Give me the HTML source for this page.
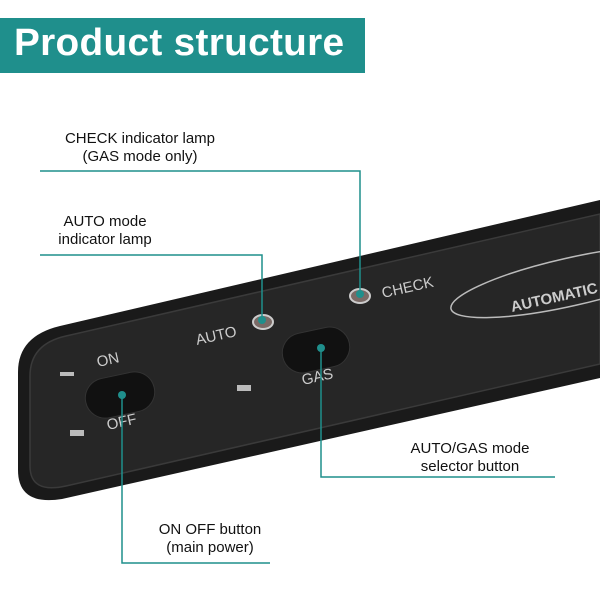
<!DOCTYPE html>
<html><head><style>
body{margin:0;width:600px;height:600px;overflow:hidden;background:#fff;font-family:"Liberation Sans",sans-serif;position:relative}
.t{position:absolute;font-size:15px;color:#111;text-align:center;line-height:18px}
</style></head><body>
<div style="position:absolute;left:0;top:18px;width:365px;height:55px;background:#1f8f8c"></div>
<div style="position:absolute;left:14px;top:22px;font-size:38px;font-weight:bold;color:#fff;letter-spacing:0.3px;transform:scaleX(1.02);transform-origin:left">Product structure</div>
<svg width="600" height="600" style="position:absolute;left:0;top:0">
<path d="M18,372 Q18,336 60,326 L600,200 L600,378 L62,499 Q18,506 18,470 Z" fill="#1a1a1a"/>
<path d="M30,376 Q30,344 66,336 L600,214 L600,364 L66,486 Q30,494 30,466 Z" fill="#262626" stroke="#3a3a3a" stroke-width="1.5"/>
<ellipse cx="570" cy="282" rx="122" ry="24" transform="rotate(-12.7 570 282)" fill="none" stroke="#bbb" stroke-width="1.5"/>
<text x="512" y="312" transform="rotate(-12.7 512 312)" fill="#ccc" font-size="15" font-weight="bold" font-family="Liberation Sans">AUTOMATIC</text>
<rect x="85" y="375" width="70" height="40" rx="20" transform="rotate(-12 120 395)" fill="#111" stroke="#333"/>
<rect x="282" y="330" width="68" height="40" rx="20" transform="rotate(-12 316 350)" fill="#111" stroke="#333"/>
<ellipse cx="263" cy="322" rx="10" ry="7" fill="#7a6a66" stroke="#ccc" stroke-width="2"/>
<ellipse cx="360" cy="296" rx="10" ry="7" fill="#7a6a66" stroke="#ccc" stroke-width="2"/>
<g fill="#ccc" font-family="Liberation Sans" font-size="15">
<text x="197" y="345" transform="rotate(-12.7 197 345)">AUTO</text>
<text x="383" y="298" transform="rotate(-12.7 383 298)">CHECK</text>
<text x="98" y="367" transform="rotate(-12.7 98 367)">ON</text>
<text x="108" y="430" transform="rotate(-12.7 108 430)">OFF</text>
<text x="303" y="385" transform="rotate(-12.7 303 385)">GAS</text>
</g>
<g fill="#bbb"><rect x="60" y="372" width="14" height="4"/><rect x="70" y="430" width="14" height="6"/><rect x="237" y="385" width="14" height="6"/></g>
<g stroke="#1f8f8c" stroke-width="1.5" fill="none">
<polyline points="40,171 360,171 360,293"/>
<polyline points="40,255 262,255 262,320"/>
<polyline points="321,348 321,477 555,477"/>
<polyline points="122,395 122,563 270,563"/>
</g>
<g fill="#1f8f8c"><circle cx="360" cy="294" r="4"/><circle cx="262" cy="320" r="4"/><circle cx="321" cy="348" r="4"/><circle cx="122" cy="395" r="4"/></g>
</svg>
<div class="t" style="left:35px;top:130px;width:210px">CHECK indicator lamp<br>(GAS mode only)</div>
<div class="t" style="left:40px;top:213px;width:130px">AUTO mode<br>indicator lamp</div>
<div class="t" style="left:385px;top:440px;width:170px">AUTO/GAS mode<br>selector button</div>
<div class="t" style="left:140px;top:521px;width:140px">ON OFF button<br>(main power)</div>
</body></html>
